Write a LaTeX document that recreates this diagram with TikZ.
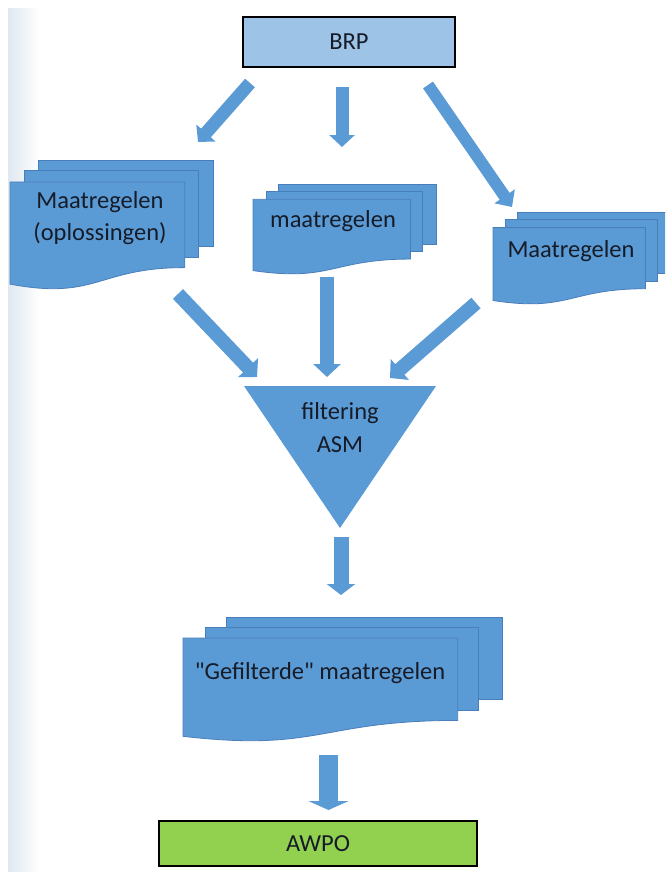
\documentclass[tikz,border=0pt]{standalone}
\usepackage{fontspec}
\setmainfont{Carlito}[Ligatures=TeXOff]
\usepackage{xcolor}
\usetikzlibrary{arrows.meta}
\definecolor{docblue}{HTML}{5B9BD5}
\definecolor{docedge}{HTML}{4A7EBB}
\definecolor{brpfill}{HTML}{9DC3E6}
\definecolor{awpofill}{HTML}{92D050}
\definecolor{ink}{HTML}{161B28}
\definecolor{strip}{HTML}{DFE8F1}

\tikzset{
  page/.style={fill=docblue, draw=docedge, line width=0.8pt},
  doctext/.style={text=ink, font=\fontsize{24.5}{32}\selectfont, align=center, inner sep=0pt},
  keybox/.style={draw=black, line width=2.2pt, text=ink, font=\fontsize{24.5}{30}\selectfont},
  blockarrow/.style={draw=docblue, line width=14pt, -{Triangle[width=27pt,length=13pt]}},
}

\newcommand\stackdoc[4]{%
  \draw[page] ({#1+0.1376*#3},{#2}) rectangle ({#1+#3},{#2+0.666*#4});
  \draw[page] ({#1+0.0709*#3},{#2+0.084*#4}) rectangle ({#1+0.926*#3},{#2+0.752*#4});
  \draw[page] ({#1},{#2+0.17*#4}) -- ({#1+0.861*#3},{#2+0.17*#4}) -- ({#1+0.861*#3},{#2+0.834*#4})
    .. controls ({#1+0.43*#3},{#2+0.834*#4}) and ({#1+0.43*#3},{#2+1.09*#4}) .. ({#1},{#2+0.962*#4}) -- cycle;
}

\begin{document}
\begin{tikzpicture}[x=1pt, y=-1pt]
  \clip (0,0) rectangle (665,872);
  \fill[white] (0,0) rectangle (665,872);
  \shade[left color=strip, right color=white] (8,9) rectangle (40,872);

  \node[keybox, fill=brpfill, minimum width=212pt, minimum height=50pt] (brp) at (349,42) {BRP};

  \stackdoc{10}{160}{203}{129}
  \stackdoc{253}{184}{183}{90}
  \stackdoc{493}{212}{177}{92}
  \node[doctext] (docleft) at (100,218) {Maatregelen\\(oplossingen)};
  \node[doctext] (docmid) at (333,221) {maatregelen};
  \node[doctext] (docright) at (571,251) {Maatregelen};

  \fill[docblue] (244,386) -- (436,386) -- (340,528) -- cycle;
  \node[doctext, font=\fontsize{24.5}{33}\selectfont] (filter) at (340,428) {filtering\\ASM};

  \stackdoc{183}{617}{319}{124}
  \node[doctext] (docfilt) at (320,673) {"Gefilterde" maatregelen};

  \node[keybox, fill=awpofill, minimum width=318pt, minimum height=45pt] (awpo) at (318,843.5) {AWPO};

  \coordinate (brpL) at (250,83);   \coordinate (inL) at (198,142);
  \coordinate (brpM) at (342,87);   \coordinate (inM) at (342,147);
  \coordinate (brpR) at (428,85);   \coordinate (inR) at (512,207);
  \draw[blockarrow, line width=13pt, -{Triangle[width=25pt,length=12pt]}] (brpL) -- (inL);
  \draw[blockarrow, line width=13pt, -{Triangle[width=25pt,length=12pt]}] (brpM) -- (inM);
  \draw[blockarrow, line width=12pt, -{Triangle[width=24pt,length=13pt]}] (brpR) -- (inR);

  \coordinate (outL) at (178,294);  \coordinate (fillL) at (257,377);
  \coordinate (outM) at (327,277);  \coordinate (fillM) at (327,377);
  \coordinate (outR) at (476,303);  \coordinate (fillR) at (390,378);
  \draw[blockarrow] (outL) -- (fillL);
  \draw[blockarrow] (outM) -- (fillM);
  \draw[blockarrow] (outR) -- (fillR);

  \coordinate (filtOut) at (341,537); \coordinate (filtIn) at (341,595);
  \draw[blockarrow, line width=15pt, -{Triangle[width=28pt,length=11pt]}] (filtOut) -- (filtIn);

  \coordinate (docOut) at (328.5,755); \coordinate (awpoIn) at (328.5,810);
  \draw[blockarrow, line width=19pt, -{Triangle[width=40pt,length=9pt]}] (docOut) -- (awpoIn);
\end{tikzpicture}
\end{document}
